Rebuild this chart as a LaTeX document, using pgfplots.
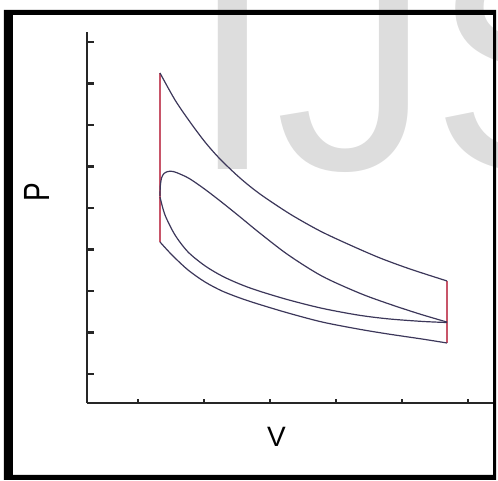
\documentclass[border=0pt]{standalone}
\usepackage{fontspec}
\setmainfont{Liberation Sans}
\usepackage{pgfplots}
\pgfplotsset{compat=1.18}
\definecolor{curve}{RGB}{60,55,90}
\definecolor{redl}{RGB}{200,85,105}
\definecolor{wm}{RGB}{221,221,221}
\begin{document}
\begin{tikzpicture}
\useasboundingbox (-87pt,-78pt) rectangle (411pt,403pt);
\begin{scope}
\clip (-87pt,-78pt) rectangle (411pt,403pt);
\node[anchor=base west, inner sep=0pt, text=wm, font=\fontsize{312}{312}\selectfont] at (102pt,233pt) {IJS};
\end{scope}
\begin{axis}[at={(0pt,0pt)}, anchor=south west, scale only axis,
  width=409pt, height=371pt,
  xmin=0.227, xmax=6.424, ymin=0.301, ymax=9.241,
  axis x line*=bottom, axis y line*=left,
  axis line style={-, line width=2.6pt, color=black!85},
  xtick={1,...,6}, ytick={1,...,9},
  xticklabels={}, yticklabels={},
  tick align=inside, major tick length=7pt,
  tick style={line width=2.4pt, color=black!85},
  xtick style={/pgfplots/major tick length=4pt},
  label style={font=\fontsize{28}{28}\selectfont},
  xlabel={V}, ylabel={P},
  xlabel style={at={(axis description cs:0.463,-0.0916)}, anchor=center},
  ylabel style={at={(axis description cs:-0.1222,0.569)}, anchor=center, yscale=1.3},
  clip=false,
]
% left and right vertical (isochoric) lines
\addplot[redl, line width=1.2pt] coordinates {(1.333,8.253) (1.333,4.181)};
\addplot[redl, line width=1.2pt] coordinates {(5.682,3.241) (5.682,1.747)};
% top expansion curve
\addplot[curve, line width=1.2pt, smooth] coordinates {
(1.333,8.253) (1.561,7.602) (1.788,7.072) (2.015,6.590) (2.242,6.181)
(2.545,5.723) (2.848,5.337) (3.303,4.855) (3.758,4.446) (4.212,4.108)
(4.667,3.795) (5.121,3.530) (5.682,3.241)};
% loop, upper branch
\addplot[curve, line width=1.2pt, smooth] coordinates {
(1.333,5.289) (1.338,5.530) (1.356,5.723) (1.394,5.831) (1.455,5.880)
(1.530,5.880) (1.636,5.819) (1.788,5.699) (2.015,5.449) (2.273,5.134)
(2.545,4.786) (2.848,4.392) (3.273,3.873) (3.788,3.358) (4.364,2.943)
(4.818,2.680) (5.273,2.443) (5.682,2.251)};
% loop, lower branch
\addplot[curve, line width=1.2pt, smooth] coordinates {
(1.333,5.265) (1.409,4.831) (1.561,4.349) (1.758,3.940) (2.015,3.606)
(2.273,3.361) (2.545,3.165) (2.818,3.007) (3.273,2.789) (3.788,2.583)
(4.333,2.420) (4.788,2.329) (5.303,2.267) (5.682,2.240)};
% bottom compression curve
\addplot[curve, line width=1.2pt, smooth] coordinates {
(1.333,4.181) (1.515,3.867) (1.758,3.506) (2.015,3.217) (2.273,3.000)
(2.545,2.831) (2.818,2.687) (3.273,2.470) (3.788,2.253) (4.333,2.084)
(4.788,1.964) (5.303,1.843) (5.682,1.747)};
\end{axis}
\fill[black, even odd rule] (-83pt,-77pt) rectangle (409pt,393pt) (-74pt,-72pt) rectangle (406pt,388pt);
\end{tikzpicture}
\end{document}
